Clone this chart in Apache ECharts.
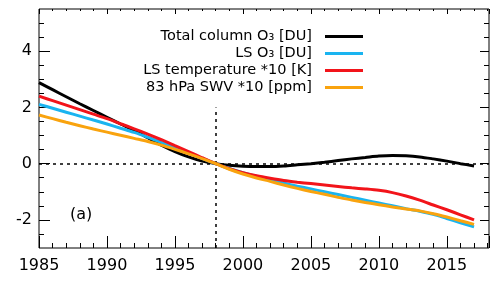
<!DOCTYPE html>
<html>
<head>
<meta charset="utf-8">
<script src="https://cdn.jsdelivr.net/npm/echarts@6/dist/echarts.min.js"></script>
<style>html,body{margin:0;padding:0;background:#fff}#c{width:500px;height:284px}</style>
</head>
<body>
<div id="c"></div>
<script>
var years = [1985,1986,1987,1988,1989,1990,1991,1992,1993,1994,1995,1996,1997,1998,1999,2000,2001,2002,2003,2004,2005,2006,2007,2008,2009,2010,2011,2012,2013,2014,2015,2016,2017];
var totalColumnO3 = [2.88,2.63,2.38,2.13,1.89,1.65,1.41,1.18,0.92,0.66,0.43,0.24,0.09,0.0,-0.06,-0.09,-0.1,-0.1,-0.08,-0.04,0.0,0.05,0.11,0.17,0.22,0.27,0.29,0.28,0.24,0.17,0.09,0.0,-0.08];
var lsO3 = [2.11,1.97,1.83,1.69,1.55,1.41,1.26,1.11,0.94,0.76,0.57,0.38,0.19,0.0,-0.17,-0.32,-0.45,-0.57,-0.69,-0.8,-0.9,-1.0,-1.1,-1.2,-1.3,-1.4,-1.5,-1.6,-1.69,-1.8,-1.95,-2.1,-2.25];
var lsTemperature = [2.40,2.24,2.08,1.92,1.76,1.60,1.42,1.24,1.05,0.85,0.64,0.43,0.21,0.0,-0.18,-0.32,-0.43,-0.52,-0.6,-0.66,-0.71,-0.76,-0.81,-0.86,-0.9,-0.95,-1.03,-1.15,-1.3,-1.47,-1.64,-1.82,-2.0];
var swv83 = [1.73,1.60,1.47,1.35,1.23,1.12,1.01,0.9,0.79,0.66,0.51,0.35,0.18,0.0,-0.2,-0.37,-0.51,-0.63,-0.76,-0.88,-0.99,-1.09,-1.2,-1.29,-1.38,-1.46,-1.54,-1.61,-1.68,-1.78,-1.9,-2.03,-2.16];
var seriesNames = ['Total column O\u2083 [DU]','LS O\u2083 [DU]','LS temperature *10 [K]','83 hPa SWV *10 [ppm]'];
var seriesColors = ['#000000','#1ab4f0','#f2141a','#f9a30e'];
var xTickLabels = [1985,1990,1995,2000,2005,2010,2015];
var yTickLabels = [-2,0,2,4];
var yMinorTicks = [-2.5,-1.5,-1,-0.5,0.5,1,1.5,2.5,3,3.5,4.5,5];
var xRange = [1985, 2018.1];
var yRange = [-3, 5.5];
var refYear = 1998;
var panelLabel = '(a)';

function pairs(vals){ return years.map(function(y,i){ return [y, vals[i]]; }); }
var font = 'DejaVu Sans';
function fmtX(v){ return (v % 5 === 0) ? String(v) : ''; }
function fmtY(v){ return String(v); }
function xAx(grid, pos, interval, len, labels){
  return {type:'value', gridIndex:grid, position:pos, min:xRange[0], max:xRange[1], interval:interval,
    axisLine:{show:false, onZero:false},
    splitLine:{show:false},
    axisTick:{show:true, inside:true, length:len, lineStyle:{color:'#000', width:1}},
    axisLabel: labels ? {show:true, formatter:fmtX, color:'#000', fontFamily:font, fontSize:16, margin:10} : {show:false}
  };
}
function yAx(grid, pos, ticks, len, labels){
  return {type:'value', gridIndex:grid, position:pos, min:yRange[0], max:yRange[1],
    axisLine:{show:false, onZero:false},
    splitLine:{show:false},
    axisTick:{show:true, inside:true, length:len, customValues:ticks, lineStyle:{color:'#000', width:1}},
    axisLabel: labels ? {show:true, customValues:labels, formatter:fmtY, color:'#000', fontFamily:font, fontSize:16, margin:7} : {show:false}
  };
}
var dash = {color:'#000', width:1.5, type:[3,4]};
var series = [totalColumnO3, lsO3, lsTemperature, swv83].map(function(v,i){
  return {name:seriesNames[i], type:'line', xAxisIndex:0, yAxisIndex:0, data:pairs(v), showSymbol:false, smooth:0.3,
    lineStyle:{color:seriesColors[i], width:3}, itemStyle:{color:seriesColors[i]}, z:3+i};
});
series.unshift({type:'line', data:[], xAxisIndex:0, yAxisIndex:0, silent:true,
  markLine:{silent:true, symbol:'none', label:{show:false}, lineStyle:dash, animation:false,
    data:[[{coord:[xRange[0],0]},{coord:[xRange[1],0]}],[{coord:[refYear,yRange[0]]},{coord:[refYear,2]}]]}});
series.push({type:'line', data:[], xAxisIndex:1, yAxisIndex:2, silent:true});
series.push({type:'line', data:[], xAxisIndex:2, yAxisIndex:4, silent:true});
series.push({type:'line', data:[], xAxisIndex:3, yAxisIndex:5, silent:true});
var g0 = {left:39, right:11, top:9, bottom:36, containLabel:false, show:true, borderColor:'#000', borderWidth:1, backgroundColor:'transparent'};
var g = {left:39, right:11, top:9, bottom:36, containLabel:false};
var hiddenY = function(grid){ return {type:'value', gridIndex:grid, min:yRange[0], max:yRange[1], show:false}; };
var chart = echarts.init(document.getElementById('c'), null, {renderer:'canvas'});
chart.setOption({
  animation:false,
  backgroundColor:'#fff',
  grid:[g0, Object.assign({}, g), Object.assign({}, g), Object.assign({}, g)],
  xAxis:[xAx(0,'bottom', 5, 12, true), xAx(1,'bottom', 1, 5, false),
         xAx(2,'top', 5, 5, false), xAx(3,'top', 1, 2, false)],
  yAxis:[yAx(0,'left', yTickLabels, 11, yTickLabels), yAx(0,'right', yTickLabels, 9, null),
         yAx(1,'left', yMinorTicks, 5, null), yAx(1,'right', yMinorTicks, 5, null),
         hiddenY(2), hiddenY(3)],
  legend:{show:true, orient:'vertical', right:137, top:28, padding:0, align:'right', itemGap:0,
    itemWidth:38, itemHeight:3, icon:'rect', data:seriesNames,
    textStyle:{fontFamily:font, fontSize:14.5, color:'#000', lineHeight:17, padding:[0,8,0,0]}},
  graphic:[{type:'text', left:70, top:207, style:{text:panelLabel, fontFamily:font, fontSize:16, fill:'#000'}}],
  series:series
});
</script>
</body>
</html>
